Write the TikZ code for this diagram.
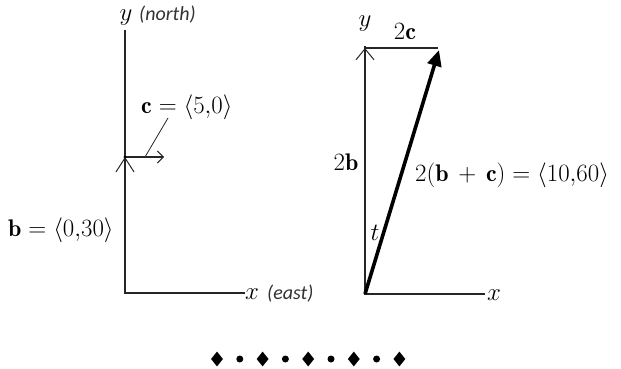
\documentclass[tikz,border=0pt]{standalone}
\usepackage{fontspec}
\newfontfamily\carlfont{Carlito}
\usetikzlibrary{arrows.meta,shapes.geometric}
\newcommand{\weq}{\mathrel{=}}
\newcommand{\wplus}{\mathbin{\,+\,}}
\tikzset{
  axis/.style={draw=black!85, line width=1.1pt},
  vec/.style={draw=black!85, line width=1.1pt},
  lead/.style={draw=black!85, line width=0.8pt},
  bigvec/.style={draw=black, line width=3.6pt, -{Triangle[length=16pt,width=14pt]}},
  lbl/.style={inner sep=0pt, font=\fontsize{24}{28}\selectfont},
  sm/.style={inner sep=0pt, font=\fontsize{24}{28}\selectfont},
  paren/.style={inner sep=0pt, font=\carlfont\itshape\fontsize{20}{24}\selectfont, text=black!80},
  diam/.style={fill=black, draw=none, shape=diamond, minimum width=12pt, minimum height=15pt, inner sep=0pt},
  dotm/.style={fill=black, draw=none, circle, minimum size=7pt, inner sep=0pt}
}
\begin{document}
\begin{tikzpicture}[x=1pt,y=-1pt]
\useasboundingbox (0,0) rectangle (621,369);
% left figure
\coordinate (O1) at (125,293);
\coordinate (T1) at (125,30);
\coordinate (X1) at (245,293);
\coordinate (B1) at (125,157);
\coordinate (C1) at (164,157);
\coordinate (P1) at (145,157);
\coordinate (Q1) at (168,118);
\draw[axis] (T1) -- (O1) -- (X1);
\draw[vec, -{Straight Barb[length=14pt,width=18pt,line width=1pt]}] (O1) -- (B1);
\draw[vec, -{Straight Barb[length=6pt,width=12pt,line width=1pt]}] (B1) -- (C1);
\fill[black] (B1) circle (1.6pt);
\draw[lead] (P1) -- (Q1);
\node[sm, anchor=base] (ylab1) at (126,21) {$y$};
\node[paren, anchor=base west] (north) at (139,21) {(north)};
\node[sm, anchor=base west] (xlab1) at (245,299) {$x$};
\node[paren, anchor=base west] (east) at (267,299) {(east)};
\node[lbl, anchor=base west] (clab) at (141,113) {$\mathbf{c} \weq \langle 5{,}0\rangle$};
\node[lbl, anchor=base west] (blab) at (8,236) {$\mathbf{b} \weq \langle 0{,}30\rangle$};
% right figure
\coordinate (O2) at (365,294);
\coordinate (T2) at (365,46);
\coordinate (X2) at (485,294);
\coordinate (B2) at (365,48);
\coordinate (C2) at (438,48);
\coordinate (S2) at (439,50);
\draw[axis] (T2) -- (O2) -- (X2);
\draw[vec, -{Straight Barb[length=11pt,width=18pt,line width=1pt]}] (O2) -- (B2);
\draw[vec] (B2) -- (C2);
\draw[bigvec] (O2) -- (S2);
\node[sm, anchor=base] (ylab2) at (365,27) {$y$};
\node[sm, anchor=base west] (xlab2) at (487,300) {$x$};
\node[lbl, anchor=base] (c2lab) at (405,40) {$2\mathbf{c}$};
\node[lbl, anchor=base] (b2lab) at (346,170) {$2\mathbf{b}$};
\node[lbl, anchor=base west] (sumlab) at (415,181) {$2(\mathbf{b}\wplus\mathbf{c}) \weq \langle 10{,}60\rangle$};
\node[lbl, anchor=base] (tlab) at (375,240) {$t$};
% ornament
\foreach \i/\s in {0/diam,1/dotm,2/diam,3/dotm,4/diam,5/dotm,6/diam,7/dotm,8/diam}{
  \node[\s] (orn\i) at (217+22.8*\i,359) {};
}
\end{tikzpicture}
\end{document}
